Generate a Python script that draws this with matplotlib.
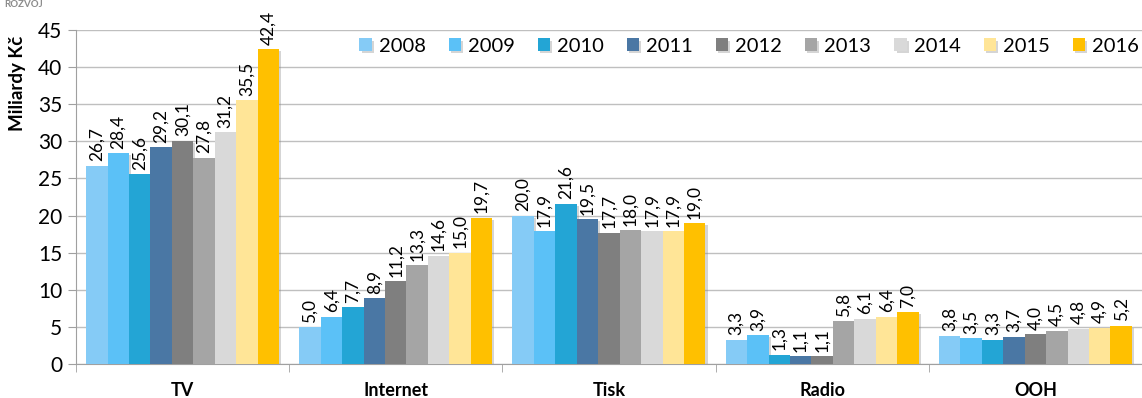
import numpy as np
import matplotlib.pyplot as plt
import matplotlib.patheffects as pe

plt.rcParams['font.family'] = ['Lato', 'DejaVu Sans']

kategorie = ['TV', 'Internet', 'Tisk', 'Radio', 'OOH']
roky = ['2008', '2009', '2010', '2011', '2012', '2013', '2014', '2015', '2016']
hodnoty = {
    '2008': [26.7, 5.0, 20.0, 3.3, 3.8],
    '2009': [28.4, 6.4, 17.9, 3.9, 3.5],
    '2010': [25.6, 7.7, 21.6, 1.3, 3.3],
    '2011': [29.2, 8.9, 19.5, 1.1, 3.7],
    '2012': [30.1, 11.2, 17.7, 1.1, 4.0],
    '2013': [27.8, 13.3, 18.0, 5.8, 4.5],
    '2014': [31.2, 14.6, 17.9, 6.1, 4.8],
    '2015': [35.5, 15.0, 17.9, 6.4, 4.9],
    '2016': [42.4, 19.7, 19.0, 7.0, 5.2],
}
barvy = ['#85CBF6', '#5BC1F7', '#23A5D5', '#4A77A4', '#7F7F7F',
         '#A5A5A5', '#D9D9D9', '#FFE597', '#FFC000']

fig = plt.figure(figsize=(11.42, 3.98), dpi=100)
ax = fig.add_axes([0.0665, 0.085, 0.9335, 0.84])

n = len(roky)
sirka = 0.905 / n
x = np.arange(len(kategorie))
for i, rok in enumerate(roky):
    pos = x - 0.905 / 2 + sirka * (i + 0.5)
    bars = ax.bar(pos, hodnoty[rok], width=sirka, color=barvy[i], label=rok, zorder=3)
    for b in bars:
        b.set_path_effects([pe.SimplePatchShadow(offset=(1.5, -1.5), shadow_rgbFace='#888888', alpha=0.35),
                            pe.Normal()])
    for p, v in zip(pos, hodnoty[rok]):
        ax.text(p, v + 0.6, f'{v:.1f}'.replace('.', ','), rotation=90,
                ha='center', va='bottom', fontsize=12.5, zorder=4)

ax.set_xlim(-0.5, len(kategorie) - 0.5)
ax.set_ylim(0, 45)
ax.set_yticks(range(0, 46, 5))
ax.set_xticks(x)
ax.set_xticklabels(kategorie, fontweight='bold', fontsize=13)
ax.set_xticks(np.arange(-0.5, len(kategorie)), minor=True)
ax.tick_params(axis='x', which='major', length=0, pad=13)
ax.tick_params(axis='x', which='minor', length=6, color='#A0A0A0', direction='out')
ax.tick_params(axis='y', labelsize=15, length=6, color='#A0A0A0', pad=4)
ax.yaxis.grid(True, color='#BFBFBF', linewidth=1, zorder=0)
ax.set_axisbelow(True)
for s in ['top', 'right']:
    ax.spines[s].set_visible(False)
for s in ['left', 'bottom']:
    ax.spines[s].set_color('#A0A0A0')
ax.set_ylabel('Miliardy Kč', fontweight='bold', fontsize=13.5)
ax.yaxis.set_label_coords(-0.047, 0.84)

ax.legend(loc='upper right', ncol=9, frameon=False, fontsize=14.5,
          handlelength=0.6, handleheight=0.6, handletextpad=0.35,
          columnspacing=1.15, bbox_to_anchor=(1.014, 1.03))

fig.text(0.004, 1.0, 'ROZVOJ', fontsize=7, color='#8C8C8C', fontweight='bold',
         va='top', ha='left')

fig.savefig('out.png', dpi=100)
